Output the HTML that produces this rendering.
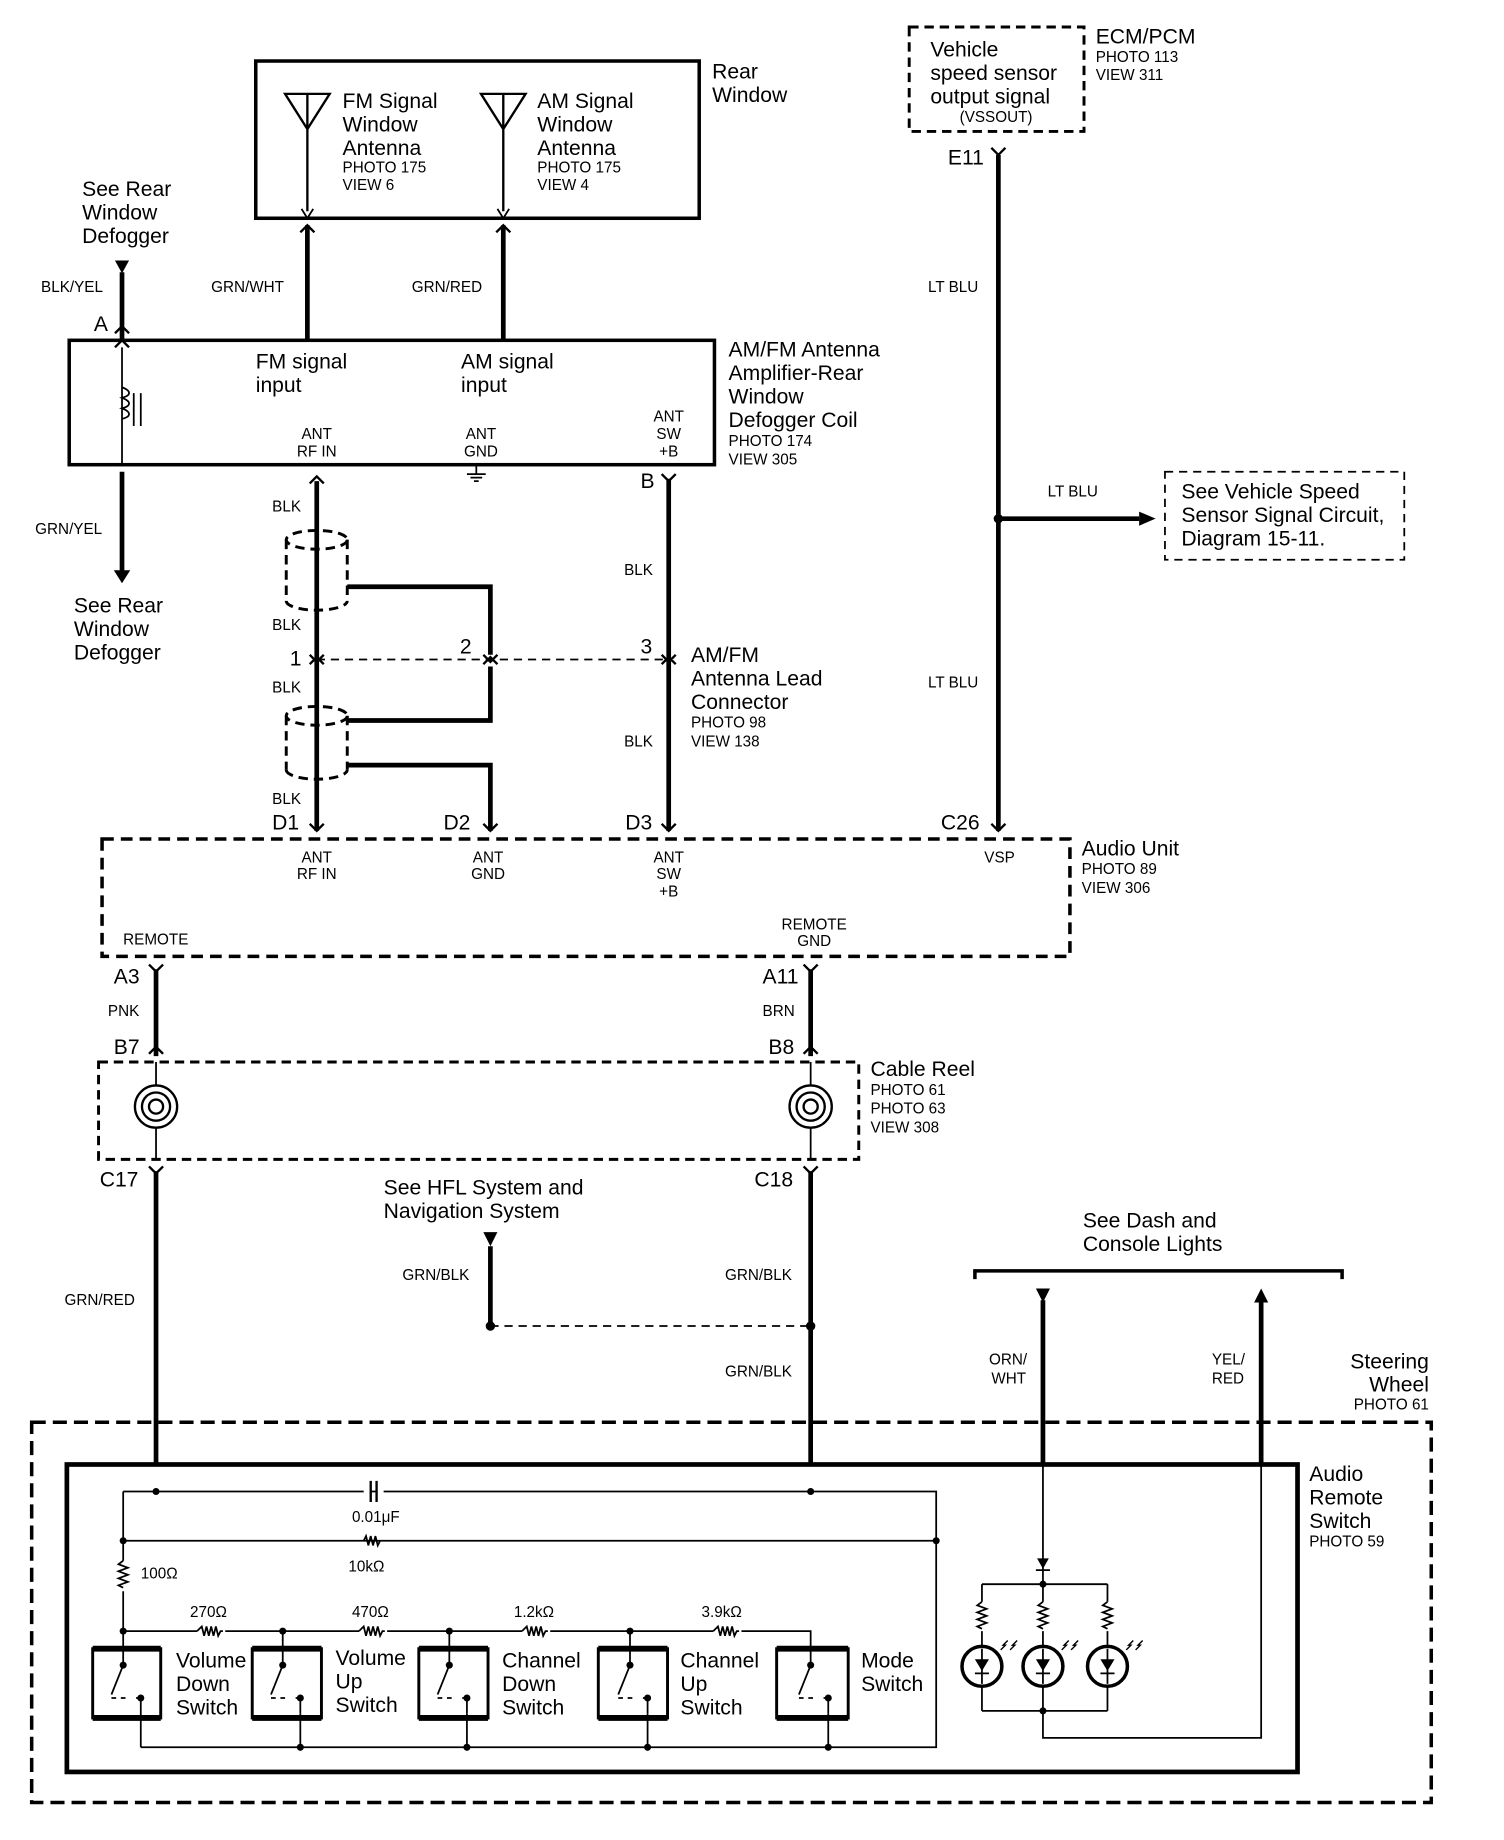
<!DOCTYPE html>
<html><head><meta charset="utf-8"><style>
html,body{margin:0;padding:0;background:#fff}
svg{display:block}
text{font-family:"Liberation Sans",sans-serif;fill:#000}
.b{font-size:18px}.s{font-size:13px}
</style></head><body>
<svg width="1504" height="1840" viewBox="0 0 1282 1568" preserveAspectRatio="none" xmlns="http://www.w3.org/2000/svg">
<g fill="none" stroke="#000">
<rect x="218" y="52" width="378" height="134" stroke-width="3"/>
<path d="M243 80h38l-19 30zM262 80v100M410 80h38l-19 30zM429 80v100" stroke-width="2"/>
<path d="M257 178l5 8 5-8M424 178l5 8 5-8" stroke-width="1.5"/>
<path d="M262 192v98M429 192v98" stroke-width="4"/>
<path d="M256 198l6-6 6 6M423 198l6-6 6 6" stroke-width="2"/>
<rect x="59" y="290" width="550" height="106" stroke-width="3"/>
<path d="M104 232v58" stroke-width="4"/>
<path d="M98 284l6-6 6 6M98 296l6-6 6 6" stroke-width="2"/>
<path d="M104 296v100M104 330c8 3 8 7 0 9c8 3 8 7 0 9c8 3 8 7 0 9M114 335v28M120 335v28" stroke-width="1.5"/>
<path d="M104 402v88" stroke-width="4"/>
<path d="M270 410v298" stroke-width="4"/>
<path d="M264 412l6-6 6 6" stroke-width="2"/>
<path d="M570 408v300" stroke-width="4"/>
<path d="M564 404l6 6 6-6" stroke-width="2"/>
<path d="M406 396v8M398 404h16M401 407h10M404 410h4" stroke-width="1.5"/>
<g stroke-width="2.5" stroke-dasharray="8 5">
<ellipse cx="270" cy="460" rx="26" ry="8"/><path d="M244 460v52M296 460v52"/><path d="M244 512a26 8 0 0 0 52 0"/>
<ellipse cx="270" cy="610" rx="26" ry="8"/><path d="M244 610v46M296 610v46"/><path d="M244 656a26 8 0 0 0 52 0"/>
</g>
<path d="M296 500h122v58M296 614h122v-46M296 652h122v56" stroke-width="4"/>
<path d="M270 562h300" stroke-width="1.5" stroke-dasharray="7 5"/>
<path d="M264 566l6-6 6 6M264 558l6 6 6-6M412 566l6-6 6 6M412 558l6 6 6-6M564 566l6-6 6 6M564 558l6 6 6-6" stroke-width="2"/>
<rect x="775" y="23" width="149" height="89" stroke-width="2.5" stroke-dasharray="8 5"/>
<path d="M851 132v576" stroke-width="4"/>
<path d="M845 126l6 6 6-6" stroke-width="2"/>
<path d="M851 442h120" stroke-width="4"/>
<rect x="993" y="402" width="204" height="75" stroke-width="1.5" stroke-dasharray="7 5"/>
<rect x="87" y="715" width="825" height="100" stroke-width="3" stroke-dasharray="10 6"/>
<path d="M264 702l6 6 6-6M412 702l6 6 6-6M564 702l6 6 6-6M845 702l6 6 6-6" stroke-width="2"/>
<path d="M133 826v74M691 826v74" stroke-width="4"/>
<path d="M127 822l6 6 6-6M685 822l6 6 6-6M127 898l6-6 6 6M685 898l6-6 6 6" stroke-width="2"/>
<rect x="84" y="905" width="648" height="83" stroke-width="2.5" stroke-dasharray="8 5"/>
<g stroke-width="2"><circle cx="133" cy="943" r="18"/><circle cx="133" cy="943" r="12"/><circle cx="133" cy="943" r="6"/>
<circle cx="691" cy="943" r="18"/><circle cx="691" cy="943" r="12"/><circle cx="691" cy="943" r="6"/></g>
<path d="M133 905v20M691 905v20M133 961v27M691 961v27" stroke-width="1.5"/>
<path d="M133 998v250M691 998v250" stroke-width="4"/>
<path d="M127 994l6 6 6-6M685 994l6 6 6-6" stroke-width="2"/>
<path d="M418 1062v68" stroke-width="4"/>
<path d="M418 1130h273" stroke-width="1.5" stroke-dasharray="7 5"/>
<path d="M831 1090v-7h313v7" stroke-width="3"/>
<path d="M889 1108v140M1075 1108v140" stroke-width="4"/>
<rect x="27" y="1212" width="1193" height="324" stroke-width="3" stroke-dasharray="12 6"/>
<rect x="57" y="1248" width="1049" height="262" stroke-width="4"/>
<g stroke-width="1.5">
<path d="M105 1271h693v218H120M105 1271v52M105 1313h693M105 1313v17M105 1356v34h586v14"/>
<path d="M105 1330l-4 3 8 3-8 3 8 3-8 3 8 3-8 3 4 2"/>
<path d="M310 1313l2-4 2 8 2-8 2 8 2-8 2 8 2-4"/>
<path d="M168 1390h24M306 1390h24M445 1390h24M608 1390h24" stroke="#fff" stroke-width="3"/>
<path d="M168 1390l4-4 2 8 2-8 2 8 2-8 2 8 2-8 2 8 2-4h2M306 1390l4-4 2 8 2-8 2 8 2-8 2 8 2-8 2 8 2-4h2M445 1390l4-4 2 8 2-8 2 8 2-8 2 8 2-8 2 8 2-4h2M608 1390l4-4 2 8 2-8 2 8 2-8 2 8 2-8 2 8 2-4h2"/>
<path d="M241 1390v14M383 1390v14M537 1390v14M105 1390v14"/>
<path d="M256 1460v29M398 1460v29M552 1460v29M706 1460v29"/>
</g>
<path d="M310 1271h6M321 1271h6" stroke="#fff" stroke-width="3"/>
<path d="M316 1262v18M321 1262v18" stroke-width="2"/>
<g stroke-width="1.5">
<rect x="79" y="1405" width="58" height="59" stroke-width="2.5"/><rect x="215" y="1405" width="59" height="59" stroke-width="2.5"/>
<rect x="357" y="1405" width="59" height="59" stroke-width="2.5"/><rect x="510" y="1405" width="59" height="59" stroke-width="2.5"/>
<rect x="662" y="1405" width="61" height="59" stroke-width="2.5"/>
<path d="M79 1405h58M215 1405h59M357 1405h59M510 1405h59M662 1405h61" stroke-width="5"/>
<path d="M79 1464h58M215 1464h59M357 1464h59M510 1464h59M662 1464h61" stroke-width="5"/>
<path d="M105 1404v15l-10 25M241 1404v15l-10 25M383 1404v15l-10 25M537 1404v15l-10 25M691 1404v15l-10 25"/>
<path d="M95 1447h4M103 1447h4M120 1447v42M231 1447h4M239 1447h4M256 1447v13M373 1447h4M381 1447h4M398 1447v13M527 1447h4M535 1447h4M552 1447v13M681 1447h4M689 1447h4M706 1447v13"/>
<path d="M116 1447h4M252 1447h4M394 1447h4M548 1447h4M702 1447h4"/>
<path d="M889 1248v78M837 1350h107M837 1350v15M889 1350v15M944 1350v15M837 1390v13M889 1390v13M944 1390v13M837 1437v21M889 1437v21M944 1437v21M837 1458h107M889 1458v23h186v-233"/>
<path d="M837 1365l-4 3 8 3-8 3 8 3-8 3 8 3-8 3 4 2M889 1365l-4 3 8 3-8 3 8 3-8 3 8 3-8 3 4 2M944 1365l-4 3 8 3-8 3 8 3-8 3 8 3-8 3 4 2"/>
<path d="M889 1326v24"/>
</g>
<g stroke-width="3"><circle cx="837" cy="1420" r="17"/><circle cx="889" cy="1420" r="17"/><circle cx="944" cy="1420" r="17"/></g>
<path d="M831 1426h12M883 1426h12M938 1426h12M837 1405v30M889 1405v30M944 1405v30M883 1338h12" stroke-width="1.5"/>
<path d="M853 1406l4-4-2 0 4-4M861 1406l4-4-2 0 4-4M905 1406l4-4-2 0 4-4M913 1406l4-4-2 0 4-4M960 1406l4-4-2 0 4-4M968 1406l4-4-2 0 4-4" stroke-width="1.2"/>
</g>
<g fill="#000">
<path d="M98 222h12l-6 11zM97 486h14l-7 11zM971 436v12l14-6zM412 1050h12l-6 12zM883 1098h12l-6 12zM1069 1110h12l-6-12z"/>
<path d="M831 1414h12l-6 10zM883 1414h12l-6 10zM938 1414h12l-6 10zM884 1328h10l-5 9z"/>
<circle cx="851" cy="442" r="4"/><circle cx="418" cy="1130" r="4"/><circle cx="691" cy="1130" r="4"/>
<circle cx="133" cy="1271" r="3"/><circle cx="691" cy="1271" r="3"/><circle cx="105" cy="1313" r="3"/><circle cx="798" cy="1313" r="3"/>
<circle cx="105" cy="1390" r="3"/><circle cx="241" cy="1390" r="3"/><circle cx="383" cy="1390" r="3"/><circle cx="537" cy="1390" r="3"/>
<circle cx="256" cy="1489" r="3"/><circle cx="398" cy="1489" r="3"/><circle cx="552" cy="1489" r="3"/><circle cx="706" cy="1489" r="3"/>
<circle cx="889" cy="1350" r="3"/><circle cx="889" cy="1458" r="3"/>
<circle cx="105" cy="1419" r="3"/><circle cx="241" cy="1419" r="3"/><circle cx="383" cy="1419" r="3"/><circle cx="537" cy="1419" r="3"/><circle cx="691" cy="1419" r="3"/>
<circle cx="120" cy="1447" r="3"/><circle cx="256" cy="1447" r="3"/><circle cx="398" cy="1447" r="3"/><circle cx="552" cy="1447" r="3"/><circle cx="706" cy="1447" r="3"/>
</g>
<text class="b" x="292" y="92">FM Signal</text><text class="b" x="292" y="112">Window</text><text class="b" x="292" y="132">Antenna</text>
<text class="s" x="292" y="147">PHOTO 175</text><text class="s" x="292" y="162">VIEW 6</text>
<text class="b" x="458" y="92">AM Signal</text><text class="b" x="458" y="112">Window</text><text class="b" x="458" y="132">Antenna</text>
<text class="s" x="458" y="147">PHOTO 175</text><text class="s" x="458" y="162">VIEW 4</text>
<text class="b" x="607" y="67">Rear</text><text class="b" x="607" y="87">Window</text>
<text class="s" x="180" y="249">GRN/WHT</text><text class="s" x="351" y="249">GRN/RED</text>
<text class="b" x="70" y="167">See Rear</text><text class="b" x="70" y="187">Window</text><text class="b" x="70" y="207">Defogger</text>
<text class="s" x="35" y="249">BLK/YEL</text><text class="b" x="80" y="282">A</text>
<text class="s" x="30" y="455">GRN/YEL</text>
<text class="b" x="63" y="522">See Rear</text><text class="b" x="63" y="542">Window</text><text class="b" x="63" y="562">Defogger</text>
<text class="b" x="218" y="314">FM signal</text><text class="b" x="218" y="334">input</text>
<text class="b" x="393" y="314">AM signal</text><text class="b" x="393" y="334">input</text>
<g class="s" text-anchor="middle"><text x="270" y="374">ANT</text><text x="270" y="389">RF IN</text><text x="410" y="374">ANT</text><text x="410" y="389">GND</text>
<text x="570" y="359">ANT</text><text x="570" y="374">SW</text><text x="570" y="389">+B</text>
<text x="270" y="735">ANT</text><text x="270" y="749">RF IN</text><text x="416" y="735">ANT</text><text x="416" y="749">GND</text>
<text x="570" y="735">ANT</text><text x="570" y="749">SW</text><text x="570" y="764">+B</text><text x="852" y="735">VSP</text>
<text x="694" y="792">REMOTE</text><text x="694" y="806">GND</text></g>
<text class="b" x="621" y="304">AM/FM Antenna</text><text class="b" x="621" y="324">Amplifier-Rear</text><text class="b" x="621" y="344">Window</text><text class="b" x="621" y="364">Defogger Coil</text>
<text class="s" x="621" y="380">PHOTO 174</text><text class="s" x="621" y="396">VIEW 305</text>
<text class="s" x="232" y="436">BLK</text><text class="s" x="232" y="537">BLK</text><text class="s" x="232" y="590">BLK</text><text class="s" x="232" y="685">BLK</text>
<text class="b" x="247" y="567">1</text><text class="b" x="392" y="557">2</text><text class="b" x="546" y="557">3</text>
<text class="b" x="546" y="416">B</text><text class="s" x="532" y="490">BLK</text><text class="s" x="532" y="636">BLK</text>
<text class="b" x="589" y="564">AM/FM</text><text class="b" x="589" y="584">Antenna Lead</text><text class="b" x="589" y="604">Connector</text>
<text class="s" x="589" y="620">PHOTO 98</text><text class="s" x="589" y="636">VIEW 138</text>
<text class="b" x="793" y="48">Vehicle</text><text class="b" x="793" y="68">speed sensor</text><text class="b" x="793" y="88">output signal</text>
<text class="s" x="818" y="104">(VSSOUT)</text>
<text class="b" x="934" y="37">ECM/PCM</text><text class="s" x="934" y="53">PHOTO 113</text><text class="s" x="934" y="68">VIEW 311</text>
<text class="b" x="808" y="140">E11</text>
<text class="s" x="791" y="249">LT BLU</text><text class="s" x="791" y="586">LT BLU</text><text class="s" x="893" y="423">LT BLU</text>
<text class="b" x="1007" y="425">See Vehicle Speed</text><text class="b" x="1007" y="445">Sensor Signal Circuit,</text><text class="b" x="1007" y="465">Diagram 15-11.</text>
<text class="b" x="232" y="707">D1</text><text class="b" x="378" y="707">D2</text><text class="b" x="533" y="707">D3</text><text class="b" x="802" y="707">C26</text>
<text class="b" x="922" y="729">Audio Unit</text><text class="s" x="922" y="745">PHOTO 89</text><text class="s" x="922" y="761">VIEW 306</text>
<text class="s" x="105" y="805">REMOTE</text>
<text class="b" x="97" y="838">A3</text><text class="b" x="650" y="838">A11</text>
<text class="s" x="92" y="866">PNK</text><text class="s" x="650" y="866">BRN</text>
<text class="b" x="97" y="898">B7</text><text class="b" x="655" y="898">B8</text>
<text class="b" x="742" y="917">Cable Reel</text><text class="s" x="742" y="933">PHOTO 61</text><text class="s" x="742" y="949">PHOTO 63</text><text class="s" x="742" y="965">VIEW 308</text>
<text class="b" x="85" y="1011">C17</text><text class="b" x="643" y="1011">C18</text>
<text class="b" x="327" y="1018">See HFL System and</text><text class="b" x="327" y="1038">Navigation System</text>
<text class="s" x="55" y="1112">GRN/RED</text><text class="s" x="343" y="1091">GRN/BLK</text><text class="s" x="618" y="1091">GRN/BLK</text><text class="s" x="618" y="1173">GRN/BLK</text>
<text class="b" x="923" y="1046">See Dash and</text><text class="b" x="923" y="1066">Console Lights</text>
<text class="s" x="843" y="1163">ORN/</text><text class="s" x="845" y="1179">WHT</text><text class="s" x="1033" y="1163">YEL/</text><text class="s" x="1033" y="1179">RED</text>
<g text-anchor="end"><text class="b" x="1218" y="1166">Steering</text><text class="b" x="1218" y="1186">Wheel</text><text class="s" x="1218" y="1201">PHOTO 61</text></g>
<text class="b" x="1116" y="1262">Audio</text><text class="b" x="1116" y="1282">Remote</text><text class="b" x="1116" y="1302">Switch</text><text class="s" x="1116" y="1318">PHOTO 59</text>
<text class="s" x="300" y="1297">0.01μF</text><text class="s" x="297" y="1339">10kΩ</text><text class="s" x="120" y="1345">100Ω</text>
<text class="s" x="162" y="1378">270Ω</text><text class="s" x="300" y="1378">470Ω</text><text class="s" x="438" y="1378">1.2kΩ</text><text class="s" x="598" y="1378">3.9kΩ</text>
<text class="b" x="150" y="1421">Volume</text><text class="b" x="150" y="1441">Down</text><text class="b" x="150" y="1461">Switch</text>
<text class="b" x="286" y="1419">Volume</text><text class="b" x="286" y="1439">Up</text><text class="b" x="286" y="1459">Switch</text>
<text class="b" x="428" y="1421">Channel</text><text class="b" x="428" y="1441">Down</text><text class="b" x="428" y="1461">Switch</text>
<text class="b" x="580" y="1421">Channel</text><text class="b" x="580" y="1441">Up</text><text class="b" x="580" y="1461">Switch</text>
<text class="b" x="734" y="1421">Mode</text><text class="b" x="734" y="1441">Switch</text>
</svg>
</body></html>
